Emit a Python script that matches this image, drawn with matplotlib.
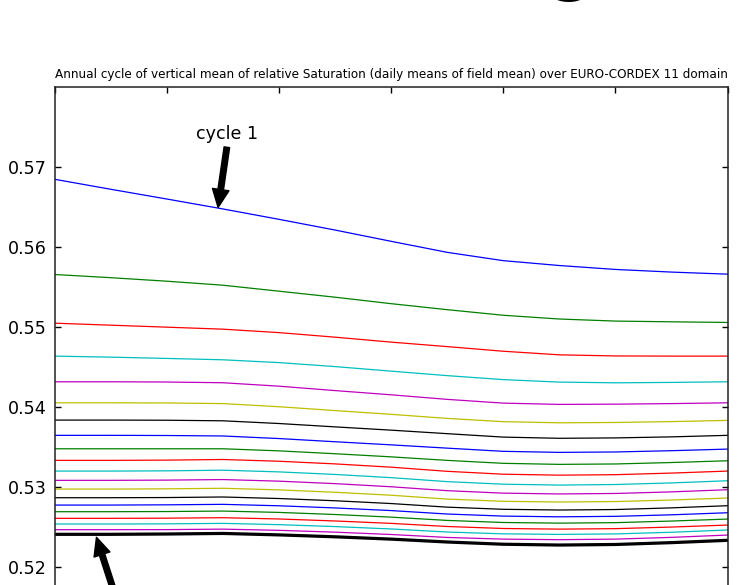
import matplotlib
matplotlib.use("Agg")
import matplotlib.pyplot as plt

# ---- data -------------------------------------------------------------
days = [0, 30, 60, 90, 120, 150, 180, 210, 240, 270, 300, 330, 360]

cycle_01 = [0.56846, 0.56721, 0.56599, 0.56475, 0.56345, 0.56211, 0.56070, 0.55932, 0.55828, 0.55767, 0.55718, 0.55685, 0.55659]
cycle_02 = [0.55655, 0.55615, 0.55571, 0.55521, 0.55446, 0.55371, 0.55290, 0.55215, 0.55145, 0.55098, 0.55072, 0.55063, 0.55055]
cycle_03 = [0.55046, 0.55021, 0.54996, 0.54971, 0.54928, 0.54871, 0.54809, 0.54753, 0.54695, 0.54650, 0.54636, 0.54634, 0.54634]
cycle_04 = [0.54634, 0.54621, 0.54605, 0.54588, 0.54553, 0.54503, 0.54446, 0.54390, 0.54340, 0.54309, 0.54300, 0.54305, 0.54313]
cycle_05 = [0.54313, 0.54313, 0.54310, 0.54301, 0.54258, 0.54203, 0.54150, 0.54093, 0.54046, 0.54030, 0.54033, 0.54040, 0.54050]
cycle_06 = [0.54050, 0.54050, 0.54048, 0.54040, 0.54001, 0.53953, 0.53906, 0.53855, 0.53814, 0.53800, 0.53804, 0.53815, 0.53830]
cycle_07 = [0.53834, 0.53834, 0.53832, 0.53825, 0.53791, 0.53749, 0.53708, 0.53664, 0.53621, 0.53606, 0.53611, 0.53624, 0.53643]
cycle_08 = [0.53643, 0.53643, 0.53641, 0.53635, 0.53603, 0.53563, 0.53524, 0.53483, 0.53443, 0.53430, 0.53435, 0.53451, 0.53471]
cycle_09 = [0.53475, 0.53475, 0.53475, 0.53475, 0.53449, 0.53413, 0.53374, 0.53330, 0.53293, 0.53280, 0.53285, 0.53303, 0.53325]
cycle_10 = [0.53330, 0.53330, 0.53333, 0.53341, 0.53319, 0.53286, 0.53245, 0.53193, 0.53157, 0.53145, 0.53151, 0.53171, 0.53196]
cycle_11 = [0.53196, 0.53196, 0.53199, 0.53207, 0.53186, 0.53154, 0.53114, 0.53064, 0.53032, 0.53021, 0.53028, 0.53048, 0.53075]
cycle_12 = [0.53080, 0.53080, 0.53083, 0.53090, 0.53070, 0.53039, 0.53000, 0.52951, 0.52920, 0.52910, 0.52916, 0.52936, 0.52963]
cycle_13 = [0.52971, 0.52971, 0.52974, 0.52981, 0.52961, 0.52931, 0.52894, 0.52846, 0.52818, 0.52809, 0.52815, 0.52834, 0.52859]
cycle_14 = [0.52863, 0.52863, 0.52865, 0.52872, 0.52853, 0.52825, 0.52790, 0.52745, 0.52718, 0.52709, 0.52715, 0.52736, 0.52763]
cycle_15 = [0.52771, 0.52771, 0.52774, 0.52780, 0.52762, 0.52735, 0.52702, 0.52659, 0.52633, 0.52624, 0.52630, 0.52649, 0.52675]
cycle_16 = [0.52688, 0.52688, 0.52690, 0.52696, 0.52679, 0.52653, 0.52620, 0.52579, 0.52553, 0.52545, 0.52551, 0.52571, 0.52596]
cycle_17 = [0.52605, 0.52605, 0.52607, 0.52613, 0.52597, 0.52572, 0.52542, 0.52503, 0.52478, 0.52470, 0.52476, 0.52496, 0.52521]
cycle_18 = [0.52534, 0.52534, 0.52536, 0.52542, 0.52526, 0.52502, 0.52472, 0.52434, 0.52411, 0.52404, 0.52410, 0.52431, 0.52459]
cycle_19 = [0.52463, 0.52463, 0.52464, 0.52470, 0.52455, 0.52432, 0.52403, 0.52366, 0.52345, 0.52338, 0.52345, 0.52367, 0.52396]
cycle_20 = [0.52405, 0.52405, 0.52409, 0.52416, 0.52398, 0.52374, 0.52345, 0.52309, 0.52281, 0.52271, 0.52278, 0.52301, 0.52330]

cycles = [cycle_01, cycle_02, cycle_03, cycle_04, cycle_05, cycle_06, cycle_07,
          cycle_08, cycle_09, cycle_10, cycle_11, cycle_12, cycle_13, cycle_14,
          cycle_15, cycle_16, cycle_17, cycle_18, cycle_19, cycle_20]

yticks = [0.52, 0.53, 0.54, 0.55, 0.56, 0.57]
xticks = [0, 60, 120, 180, 240, 300, 360]
title = ("Annual cycle of vertical mean of relative Saturation "
         "(daily means of field mean) over EURO-CORDEX 11 domain")

# ---- figure -----------------------------------------------------------
plt.rcParams['font.family'] = ['DejaVu Sans']
fig = plt.figure(figsize=(7.52, 5.85), dpi=100)
fig.patch.set_facecolor('white')
# the lower part of the axes lies below the picture's edge, as in the reference
ax = fig.add_axes([0.0725, -0.1054, 0.895, 0.9567])

colors = ['b', 'g', 'r', 'c', 'm', 'y', 'k']
n = len(cycles)
for i, c in enumerate(cycles):
    if i == n - 1:
        ax.plot(days, c, color='k', lw=2.3, solid_joinstyle='round')
    else:
        ax.plot(days, c, color=colors[i % len(colors)], lw=0.9)

ax.set_xlim(days[0], days[-1])
ax.set_ylim(0.51, 0.58)
ax.set_yticks(yticks)
ax.set_yticklabels([f"{t:.2f}" for t in yticks])
ax.set_xticks(xticks)
ax.tick_params(direction='in', top=True, right=True, length=4.3, width=1,
               labelsize=12.6, pad=5.5, colors='black')
for s in ax.spines.values():
    s.set_linewidth(1.1)
    s.set_color('#222222')

ax.set_title(title, fontsize=8.65, pad=6.5)

# annotations
ax.annotate('cycle 1', xy=(87.4, cycle_01[3] + 0.00002), xytext=(92.5, 0.5741),
            ha='center', va='center', fontsize=12.6,
            arrowprops=dict(facecolor='black', edgecolor='black', shrink=0.02,
                            width=4, headwidth=12, headlength=13))
ax.annotate('cycle 20', xy=(22.2, cycle_20[0] - 0.0002), xytext=(53.7, 0.5141),
            ha='center', va='center', fontsize=12.6, annotation_clip=False,
            arrowprops=dict(facecolor='black', edgecolor='black', shrink=0.02,
                            width=4, headwidth=12, headlength=13))

# descender of a large heading cut off at the top of the picture
fig.text(571 / 752, 1.0 + 10.5 / 585, 'g', fontsize=44, fontweight='bold',
         ha='center', va='baseline')

fig.savefig('out.png', dpi=100)
